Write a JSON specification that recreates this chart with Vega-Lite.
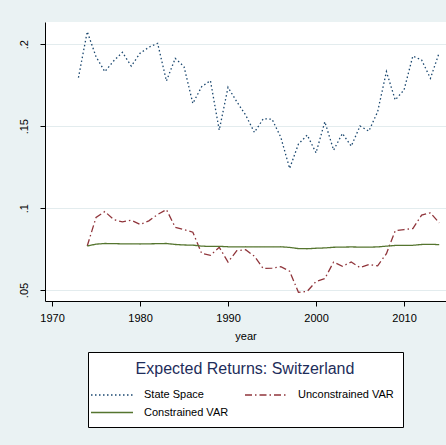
{
  "$schema": "https://vega.github.io/schema/vega-lite/v6.json",
  "width": 401,
  "height": 279,
  "autosize": {"type": "none"},
  "padding": {"left": 45, "top": 22, "right": 0, "bottom": 144},
  "background": "#EAF2F3",
  "config": {
    "font": "Liberation Sans",
    "view": {"fill": "white", "stroke": null},
    "axis": {
      "domainColor": "black",
      "tickColor": "black",
      "tickSize": 5,
      "labelFontSize": 11,
      "labelColor": "black",
      "titleFontSize": 11,
      "titleFontWeight": "normal",
      "titleColor": "black",
      "labelFont": "Liberation Sans",
      "titleFont": "Liberation Sans"
    }
  },
  "data": {
    "values": [
      {"year": 1973, "series": "State Space", "value": 0.1796},
      {"year": 1974, "series": "State Space", "value": 0.2077},
      {"year": 1975, "series": "State Space", "value": 0.1924},
      {"year": 1976, "series": "State Space", "value": 0.1833},
      {"year": 1977, "series": "State Space", "value": 0.1898},
      {"year": 1978, "series": "State Space", "value": 0.1951},
      {"year": 1979, "series": "State Space", "value": 0.1867},
      {"year": 1980, "series": "State Space", "value": 0.1945},
      {"year": 1981, "series": "State Space", "value": 0.1982},
      {"year": 1982, "series": "State Space", "value": 0.2006},
      {"year": 1983, "series": "State Space", "value": 0.1776},
      {"year": 1984, "series": "State Space", "value": 0.1914},
      {"year": 1985, "series": "State Space", "value": 0.1863},
      {"year": 1986, "series": "State Space", "value": 0.1639},
      {"year": 1987, "series": "State Space", "value": 0.1741},
      {"year": 1988, "series": "State Space", "value": 0.1778},
      {"year": 1989, "series": "State Space", "value": 0.1476},
      {"year": 1990, "series": "State Space", "value": 0.1737},
      {"year": 1991, "series": "State Space", "value": 0.1649},
      {"year": 1992, "series": "State Space", "value": 0.1568},
      {"year": 1993, "series": "State Space", "value": 0.1462},
      {"year": 1994, "series": "State Space", "value": 0.1545},
      {"year": 1995, "series": "State Space", "value": 0.1543},
      {"year": 1996, "series": "State Space", "value": 0.1432},
      {"year": 1997, "series": "State Space", "value": 0.1242},
      {"year": 1998, "series": "State Space", "value": 0.1391},
      {"year": 1999, "series": "State Space", "value": 0.1446},
      {"year": 2000, "series": "State Space", "value": 0.1337},
      {"year": 2001, "series": "State Space", "value": 0.1527},
      {"year": 2002, "series": "State Space", "value": 0.1354},
      {"year": 2003, "series": "State Space", "value": 0.1456},
      {"year": 2004, "series": "State Space", "value": 0.1378},
      {"year": 2005, "series": "State Space", "value": 0.1501},
      {"year": 2006, "series": "State Space", "value": 0.1470},
      {"year": 2007, "series": "State Space", "value": 0.1588},
      {"year": 2008, "series": "State Space", "value": 0.1833},
      {"year": 2009, "series": "State Space", "value": 0.1660},
      {"year": 2010, "series": "State Space", "value": 0.1721},
      {"year": 2011, "series": "State Space", "value": 0.1928},
      {"year": 2012, "series": "State Space", "value": 0.1904},
      {"year": 2013, "series": "State Space", "value": 0.1792},
      {"year": 2014, "series": "State Space", "value": 0.1949},

      {"year": 1974, "series": "Unconstrained VAR", "value": 0.0769},
      {"year": 1975, "series": "Unconstrained VAR", "value": 0.0943},
      {"year": 1976, "series": "Unconstrained VAR", "value": 0.0979},
      {"year": 1977, "series": "Unconstrained VAR", "value": 0.0930},
      {"year": 1978, "series": "Unconstrained VAR", "value": 0.0916},
      {"year": 1979, "series": "Unconstrained VAR", "value": 0.0926},
      {"year": 1980, "series": "Unconstrained VAR", "value": 0.0900},
      {"year": 1981, "series": "Unconstrained VAR", "value": 0.0922},
      {"year": 1982, "series": "Unconstrained VAR", "value": 0.0961},
      {"year": 1983, "series": "Unconstrained VAR", "value": 0.0991},
      {"year": 1984, "series": "Unconstrained VAR", "value": 0.0883},
      {"year": 1985, "series": "Unconstrained VAR", "value": 0.0869},
      {"year": 1986, "series": "Unconstrained VAR", "value": 0.0853},
      {"year": 1987, "series": "Unconstrained VAR", "value": 0.0724},
      {"year": 1988, "series": "Unconstrained VAR", "value": 0.0712},
      {"year": 1989, "series": "Unconstrained VAR", "value": 0.0761},
      {"year": 1990, "series": "Unconstrained VAR", "value": 0.0671},
      {"year": 1991, "series": "Unconstrained VAR", "value": 0.0740},
      {"year": 1992, "series": "Unconstrained VAR", "value": 0.0746},
      {"year": 1993, "series": "Unconstrained VAR", "value": 0.0706},
      {"year": 1994, "series": "Unconstrained VAR", "value": 0.0631},
      {"year": 1995, "series": "Unconstrained VAR", "value": 0.0634},
      {"year": 1996, "series": "Unconstrained VAR", "value": 0.0642},
      {"year": 1997, "series": "Unconstrained VAR", "value": 0.0615},
      {"year": 1998, "series": "Unconstrained VAR", "value": 0.0486},
      {"year": 1999, "series": "Unconstrained VAR", "value": 0.0492},
      {"year": 2000, "series": "Unconstrained VAR", "value": 0.0552},
      {"year": 2001, "series": "Unconstrained VAR", "value": 0.0570},
      {"year": 2002, "series": "Unconstrained VAR", "value": 0.0671},
      {"year": 2003, "series": "Unconstrained VAR", "value": 0.0645},
      {"year": 2004, "series": "Unconstrained VAR", "value": 0.0671},
      {"year": 2005, "series": "Unconstrained VAR", "value": 0.0637},
      {"year": 2006, "series": "Unconstrained VAR", "value": 0.0655},
      {"year": 2007, "series": "Unconstrained VAR", "value": 0.0648},
      {"year": 2008, "series": "Unconstrained VAR", "value": 0.0722},
      {"year": 2009, "series": "Unconstrained VAR", "value": 0.0862},
      {"year": 2010, "series": "Unconstrained VAR", "value": 0.0869},
      {"year": 2011, "series": "Unconstrained VAR", "value": 0.0875},
      {"year": 2012, "series": "Unconstrained VAR", "value": 0.0957},
      {"year": 2013, "series": "Unconstrained VAR", "value": 0.0971},
      {"year": 2014, "series": "Unconstrained VAR", "value": 0.0910},

      {"year": 1974, "series": "Constrained VAR", "value": 0.0769},
      {"year": 1975, "series": "Constrained VAR", "value": 0.0780},
      {"year": 1976, "series": "Constrained VAR", "value": 0.0784},
      {"year": 1977, "series": "Constrained VAR", "value": 0.0783},
      {"year": 1978, "series": "Constrained VAR", "value": 0.0782},
      {"year": 1979, "series": "Constrained VAR", "value": 0.0782},
      {"year": 1980, "series": "Constrained VAR", "value": 0.0781},
      {"year": 1981, "series": "Constrained VAR", "value": 0.0782},
      {"year": 1982, "series": "Constrained VAR", "value": 0.0783},
      {"year": 1983, "series": "Constrained VAR", "value": 0.0784},
      {"year": 1984, "series": "Constrained VAR", "value": 0.0778},
      {"year": 1985, "series": "Constrained VAR", "value": 0.0775},
      {"year": 1986, "series": "Constrained VAR", "value": 0.0774},
      {"year": 1987, "series": "Constrained VAR", "value": 0.0768},
      {"year": 1988, "series": "Constrained VAR", "value": 0.0766},
      {"year": 1989, "series": "Constrained VAR", "value": 0.0767},
      {"year": 1990, "series": "Constrained VAR", "value": 0.0764},
      {"year": 1991, "series": "Constrained VAR", "value": 0.0763},
      {"year": 1992, "series": "Constrained VAR", "value": 0.0764},
      {"year": 1993, "series": "Constrained VAR", "value": 0.0763},
      {"year": 1994, "series": "Constrained VAR", "value": 0.0763},
      {"year": 1995, "series": "Constrained VAR", "value": 0.0763},
      {"year": 1996, "series": "Constrained VAR", "value": 0.0764},
      {"year": 1997, "series": "Constrained VAR", "value": 0.0760},
      {"year": 1998, "series": "Constrained VAR", "value": 0.0753},
      {"year": 1999, "series": "Constrained VAR", "value": 0.0752},
      {"year": 2000, "series": "Constrained VAR", "value": 0.0755},
      {"year": 2001, "series": "Constrained VAR", "value": 0.0757},
      {"year": 2002, "series": "Constrained VAR", "value": 0.0761},
      {"year": 2003, "series": "Constrained VAR", "value": 0.0762},
      {"year": 2004, "series": "Constrained VAR", "value": 0.0763},
      {"year": 2005, "series": "Constrained VAR", "value": 0.0762},
      {"year": 2006, "series": "Constrained VAR", "value": 0.0762},
      {"year": 2007, "series": "Constrained VAR", "value": 0.0763},
      {"year": 2008, "series": "Constrained VAR", "value": 0.0768},
      {"year": 2009, "series": "Constrained VAR", "value": 0.0772},
      {"year": 2010, "series": "Constrained VAR", "value": 0.0772},
      {"year": 2011, "series": "Constrained VAR", "value": 0.0773},
      {"year": 2012, "series": "Constrained VAR", "value": 0.0778},
      {"year": 2013, "series": "Constrained VAR", "value": 0.0779},
      {"year": 2014, "series": "Constrained VAR", "value": 0.0777}
    ]
  },
  "mark": {"type": "line", "clip": true},
  "encoding": {
    "x": {
      "field": "year",
      "type": "quantitative",
      "scale": {"domain": [1969.2, 2014.77], "nice": false, "zero": false},
      "axis": {
        "values": [1970, 1980, 1990, 2000, 2010],
        "format": "d",
        "title": "year",
        "grid": false,
        "labelFontSize": 11,
        "labelPadding": 6,
        "titlePadding": 7
      }
    },
    "y": {
      "field": "value",
      "type": "quantitative",
      "scale": {"domain": [0.0433, 0.2136], "nice": false, "zero": false},
      "axis": {
        "values": [0.05, 0.1, 0.15, 0.2],
        "labelExpr": "replace(format(datum.value, '.2~f'), '0.', '.')",
        "title": null,
        "grid": true,
        "gridColor": "#E3ECEE",
        "gridWidth": 1.2,
        "labelFontSize": 11,
        "labelAngle": 270,
        "labelAlign": "center",
        "labelBaseline": "bottom",
        "labelPadding": 11
      }
    },
    "color": {
      "field": "series",
      "type": "nominal",
      "scale": {
        "domain": ["State Space", "Unconstrained VAR", "Constrained VAR"],
        "range": ["#1a476f", "#90353b", "#55752f"]
      },
      "legend": {
        "title": "Expected Returns: Switzerland",
        "values": ["State Space", "Unconstrained VAR", "Constrained VAR"],
        "orient": "none",
        "direction": "horizontal",
        "legendX": 43,
        "legendY": 330,
        "columns": 2,
        "titleAnchor": "middle",
        "titleFontSize": 16,
        "titleFontWeight": "normal",
        "titleColor": "#1e2d5a",
        "titleFont": "Liberation Sans",
        "titleLimit": 400,
        "titlePadding": 10,
        "labelFontSize": 11,
        "labelColor": "black",
        "labelFont": "Liberation Sans",
        "labelLimit": 300,
        "labelOffset": 24,
        "symbolType": "M-3,0H3",
        "symbolSize": 196,
        "symbolOffset": 7,
        "strokeColor": "black",
        "fillColor": "white",
        "padding": 9,
        "columnPadding": 13,
        "rowPadding": 4.5
      }
    },
    "strokeDash": {
      "field": "series",
      "type": "nominal",
      "scale": {
        "domain": ["State Space", "Unconstrained VAR", "Constrained VAR"],
        "range": [[1.5, 2.5], [7, 3, 1.5, 3], [1, 0]]
      }
    },
    "strokeWidth": {
      "field": "series",
      "type": "nominal",
      "scale": {
        "domain": ["State Space", "Unconstrained VAR", "Constrained VAR"],
        "range": [1.3, 1.3, 1.8]
      }
    }
  }
}
